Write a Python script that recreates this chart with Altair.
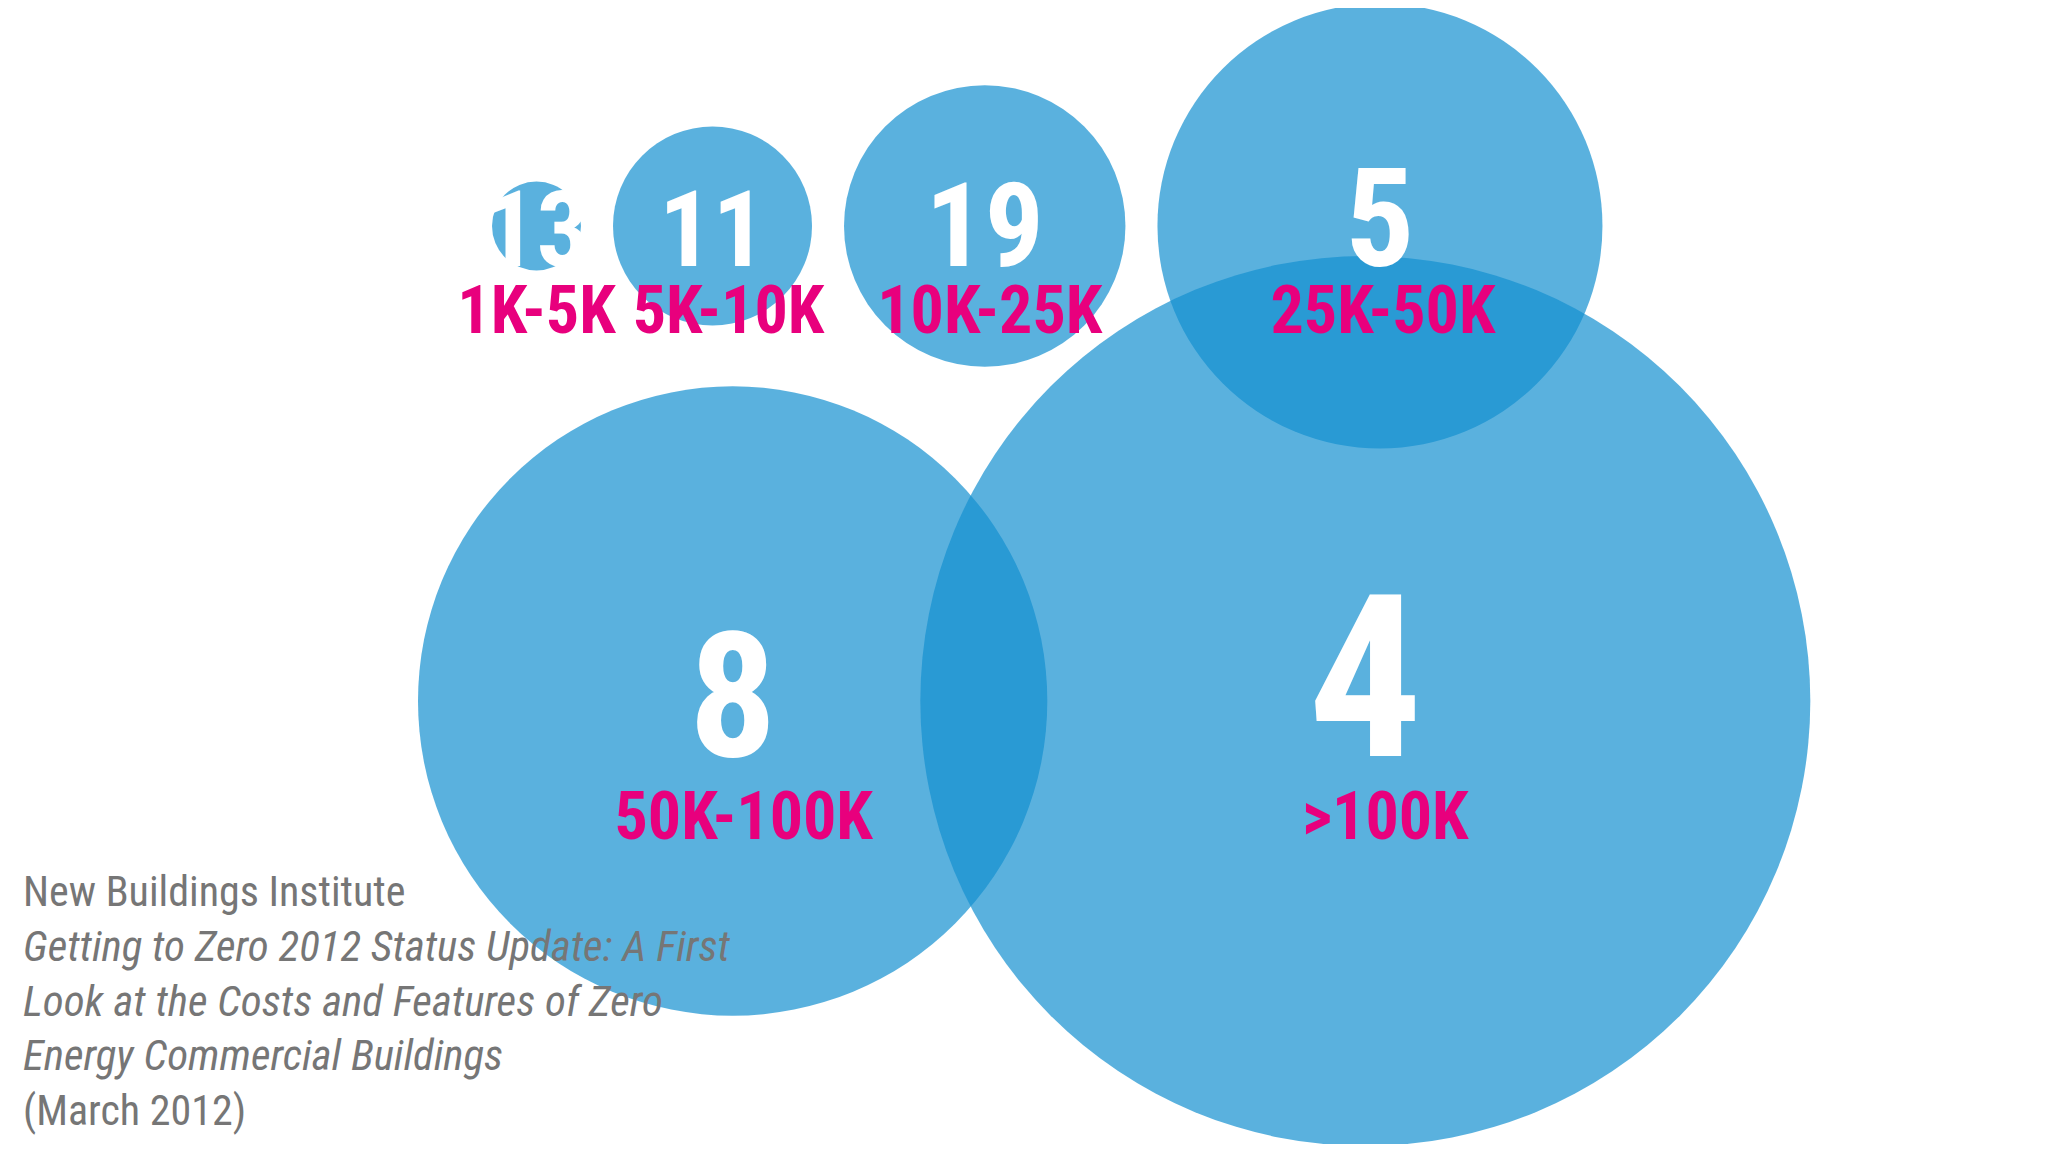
import math

import altair as alt
import pandas as pd

# building size bands (sq ft) and how many zero energy buildings fall in each
bands = ["1K-5K", "5K-10K", "10K-25K", "25K-50K", "50K-100K", ">100K"]
counts = [13, 11, 19, 5, 8, 4]
# lower bound of each band in thousand sq ft -- bubble area follows it
floor_k = [1, 5, 10, 25, 50, 100]
row = [0, 0, 0, 0, 1, 1]

source = [
    "New Buildings Institute",
    "Getting to Zero 2012 Status Update: A First",
    "Look at the Costs and Features of Zero",
    "Energy Commercial Buildings",
    "(March 2012)",
]
source_italic = [False, True, True, True, False]

# layout (page pixels)
R1 = 44.5                  # radius of the 1K bubble
row_y = [226, 701]         # bubble centre of each row
row_left = [492, 418]      # left edge of first bubble in each row
row_gap = [32, -127]       # space between bubbles (negative = overlap)
num_off = [40, 55]         # number baseline below the centre
label_off = [107, 138]     # band label baseline below the centre
num_px = [106, 106, 117, 137, 174, 226]
label_dx = [0, 16, 5, 3, 11, 20]

NARROW = "Roboto Condensed, Liberation Sans Narrow, sans-serif"
BLUE = "#1490D0"
PINK = "#E8007D"
GREY = "#767676"

cx, cy, ny, ly = [], [], [], []
edge = list(row_left)
for i, v in enumerate(floor_k):
    k = row[i]
    r = R1 * math.sqrt(v)
    cx.append(edge[k] + r)
    edge[k] += 2 * r + row_gap[k]
    cy.append(row_y[k])
    ny.append(row_y[k] + num_off[k])
    ly.append(row_y[k] + label_off[k])

df = pd.DataFrame({
    "band": bands, "count": counts, "floor_k": floor_k,
    "cx": cx, "cy": cy, "ny": ny, "ly": ly,
    "lx": [a + b for a, b in zip(cx, label_dx)],
    "num_px": num_px,
})

src = pd.DataFrame({
    "line": source,
    "italic": source_italic,
    "sx": [23] * len(source),
    "sy": [906 + i * 54.8 for i in range(len(source))],
})

xs = alt.Scale(domain=[8, 2040], nice=False, zero=False)
ys = alt.Scale(domain=[8, 1144], reverse=True, nice=False, zero=False)

base = alt.Chart(df)

bubbles = base.mark_circle(color=BLUE, opacity=0.7).encode(
    x=alt.X("cx:Q", scale=xs, axis=None),
    y=alt.Y("cy:Q", scale=ys, axis=None),
    size=alt.Size("floor_k:Q", scale=alt.Scale(domain=[0, 100], range=[0, 4 * R1 * R1 * 100]), legend=None),
)

numbers = base.mark_text(color="white", font=NARROW, fontWeight="bold", baseline="alphabetic").encode(
    x=alt.X("cx:Q", scale=xs, axis=None),
    y=alt.Y("ny:Q", scale=ys, axis=None),
    text="count:N",
    size=alt.Size("num_px:Q", scale=None),
)

labels = base.mark_text(color=PINK, font=NARROW, fontWeight="bold", fontSize=66, baseline="alphabetic").encode(
    x=alt.X("lx:Q", scale=xs, axis=None),
    y=alt.Y("ly:Q", scale=ys, axis=None),
    text="band:N",
)

src_base = alt.Chart(src)
src_plain = src_base.transform_filter("!datum.italic").mark_text(
    color=GREY, font=NARROW, fontSize=42, align="left", baseline="alphabetic"
).encode(
    x=alt.X("sx:Q", scale=xs, axis=None),
    y=alt.Y("sy:Q", scale=ys, axis=None),
    text="line:N",
)
src_ital = src_base.transform_filter("datum.italic").mark_text(
    color=GREY, font=NARROW, fontSize=43, fontStyle="italic", align="left", baseline="alphabetic"
).encode(
    x=alt.X("sx:Q", scale=xs, axis=None),
    y=alt.Y("sy:Q", scale=ys, axis=None),
    text="line:N",
)

chart = alt.layer(bubbles, numbers, labels, src_plain, src_ital).properties(
    width=2032,
    height=1136,
    padding=0,
    autosize=alt.AutoSizeParams(type="none"),
    background="white",
).configure_view(stroke=None)

chart.save("out.html", embed_options={"renderer": "svg", "actions": False})
